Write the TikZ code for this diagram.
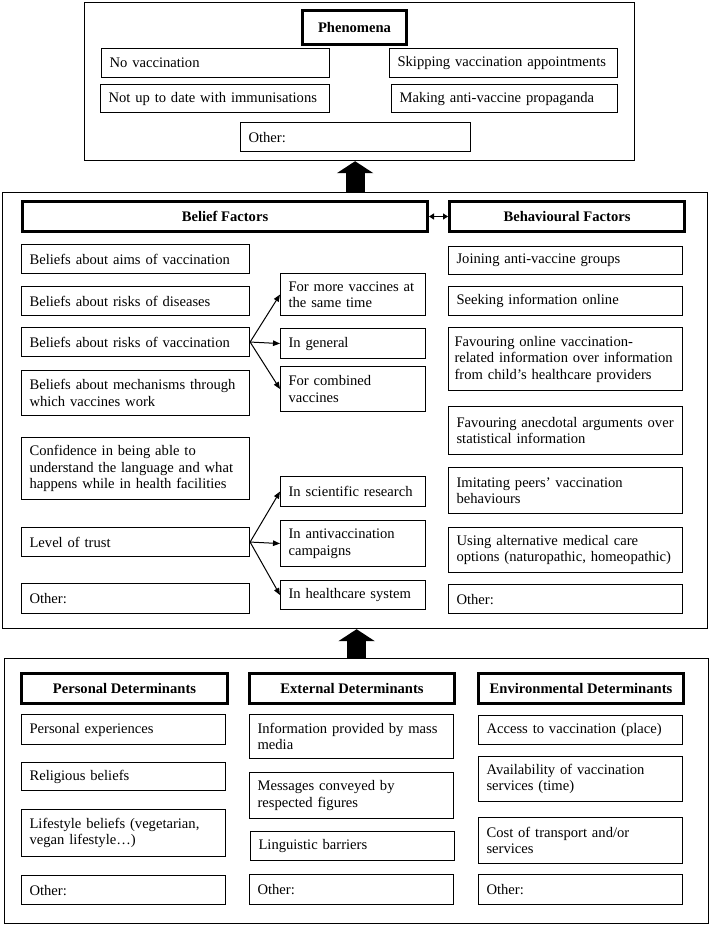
\documentclass[tikz,border=0pt]{standalone}
\usepackage{fontspec}
\setmainfont{Liberation Serif}
\usetikzlibrary{arrows.meta}
\newcommand{\nohyph}{\hyphenpenalty=10000\relax}
\tikzset{
  bx/.style={draw, line width=1.1pt, anchor=north west, inner xsep=8pt, inner ysep=0pt,
    align=left, font=\fontsize{14.6}{16.5}\selectfont\nohyph},
  hd/.style={draw, line width=3pt, anchor=north west, inner sep=0pt, align=center,
    font=\fontsize{14.6}{16.5}\selectfont\bfseries},
  frame/.style={draw, line width=1.2pt, anchor=north west, inner sep=0pt},
  fan/.style={line width=1pt, -{Triangle[length=7pt,width=5.5pt]}},
  big/.style={line width=19pt, -{Triangle[length=12pt,width=36pt]}},
  dbl/.style={line width=1.5pt, {Triangle[length=5pt,width=6pt]}-{Triangle[length=5pt,width=6pt]}},
}
% name, x, y, text width (box width - 16), height, text
\newcommand{\B}[6]{\node[bx, text width=#4pt, minimum height=#5pt] (#1) at (#2,#3) {#6};}
\begin{document}
\begin{tikzpicture}[x=1pt,y=-1pt]
\useasboundingbox (0,0) rectangle (709,925);
% ---------- Phenomena ----------
\node[frame, minimum width=550pt, minimum height=158pt] (topbox) at (84,2) {};
\node[hd, minimum width=104pt, minimum height=34pt] (phen) at (301,9) {Phenomena};
\B{novacc}{101}{48}{212}{29}{No vaccination}
\B{skip}{389}{48}{212}{29}{Skipping vaccination appointments}
\B{notup}{100}{84}{213}{28}{Not up to date with immunisations}
\B{making}{391}{84}{210}{28}{Making anti-vaccine propaganda}
\B{otherT}{240}{122}{214}{29}{Other:}
% ---------- Factors ----------
\node[frame, minimum width=705pt, minimum height=436pt] (midbox) at (2,192) {};
\node[hd, minimum width=405pt, minimum height=30pt] (belief) at (21,200) {Belief Factors};
\node[hd, minimum width=235pt, minimum height=30pt] (behav) at (448,200) {Behavioural Factors};
\B{aims}{21}{244}{212}{29}{Beliefs about aims of vaccination}
\B{rdis}{21}{286}{212}{29}{Beliefs about risks of diseases}
\B{rvac}{21}{327}{212}{29}{Beliefs about risks of vaccination}
\B{mech}{21}{370}{212}{45}{Beliefs about mechanisms through\\which vaccines work}
\B{conf}{21}{437}{212}{62}{Confidence in being able to\\understand the language and what\\happens while in health facilities}
\B{trust}{21}{527}{212}{29}{Level of trust}
\B{otherL}{21}{583}{212}{30}{Other:}
\B{fmore}{280}{273}{129}{42}{For more vaccines at\\the same time}
\B{gen}{280}{328}{129}{30}{In general}
\B{comb}{280}{366}{129}{45}{For combined\\vaccines}
\B{sci}{280}{476}{129}{30}{In scientific research}
\B{anti}{280}{520}{129}{46}{In antivaccination\\campaigns}
\B{hc}{280}{580}{129}{29}{In healthcare system}
\B{join}{448}{246}{218}{28}{Joining anti-vaccine groups}
\B{seek}{448}{286}{218}{29}{Seeking information online}
\node[bx, inner xsep=6pt, text width=222pt, minimum height=63pt] (fonl) at (448,327)
  {Favouring online vaccination-\\\mbox{related information over information}\\from child’s healthcare providers};
\B{fane}{448}{406}{218}{48}{\mbox{Favouring anecdotal arguments over}\\statistical information}
\B{imit}{448}{467}{218}{46}{Imitating peers’ vaccination\\behaviours}
\B{alt}{448}{527}{218}{45}{Using alternative medical care\\\mbox{options (naturopathic, homeopathic)}}
\B{otherR}{448}{584}{218}{29}{Other:}
% ---------- Determinants ----------
\node[frame, minimum width=704pt, minimum height=265pt] (botbox) at (4,658) {};
\node[hd, minimum width=206pt, minimum height=30pt] (pers) at (20,672) {Personal Determinants};
\node[hd, minimum width=205pt, minimum height=30pt] (ext) at (248,672) {External Determinants};
\node[hd, minimum width=205pt, minimum height=30pt] (env) at (477,672) {Environmental Determinants};
\B{pexp}{21}{714}{188}{30}{Personal experiences}
\B{relig}{21}{762}{188}{28}{Religious beliefs}
\B{life}{21}{809}{188}{47}{Lifestyle beliefs (vegetarian,\\vegan lifestyle…)}
\B{otherP}{21}{875}{188}{29}{Other:}
\B{info}{249}{714}{188}{44}{Information provided by mass\\media}
\B{msg}{249}{772}{188}{46}{Messages conveyed by\\respected figures}
\B{ling}{250}{831}{188}{29}{Linguistic barriers}
\B{otherE}{249}{874}{188}{30}{Other:}
\B{acc}{478}{715}{188}{29}{Access to vaccination (place)}
\B{avail}{478}{756}{188}{45}{Availability of vaccination\\services (time)}
\B{cost}{478}{817}{188}{46}{Cost of transport and/or\\services}
\B{otherV}{478}{874}{188}{30}{Other:}
% ---------- Connectors ----------
\draw[big] (midbox.north) -- (midbox.north |- topbox.south);
\draw[big] (botbox.north) -- (botbox.north |- midbox.south);
\draw[dbl] (belief.east) -- (behav.west);
\draw[fan] (rvac.east) -- (fmore.west);
\draw[fan] (rvac.east) -- (gen.west);
\draw[fan] (rvac.east) -- (comb.west);
\draw[fan] (trust.east) -- (sci.west);
\draw[fan] (trust.east) -- (anti.west);
\draw[fan] (trust.east) -- (hc.west);
\end{tikzpicture}
\end{document}
